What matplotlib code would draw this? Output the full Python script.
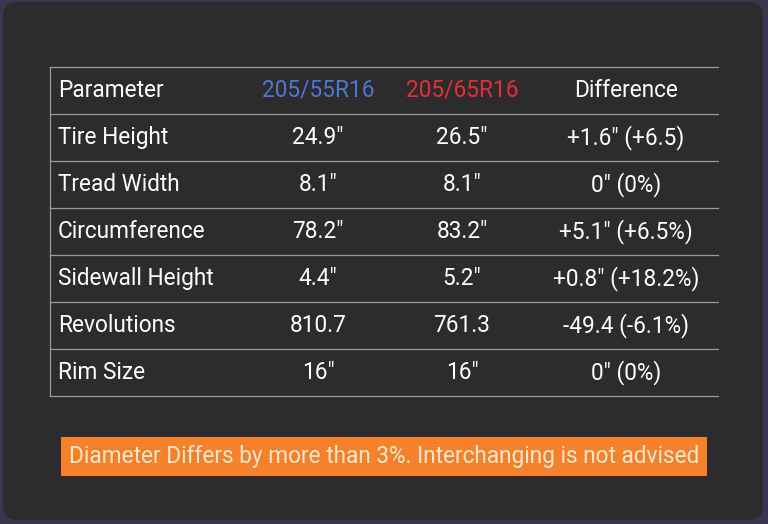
import matplotlib.pyplot as plt
from matplotlib.patches import FancyBboxPatch, Rectangle

params = ["Tire Height", "Tread Width", "Circumference", "Sidewall Height", "Revolutions", "Rim Size"]
tire_a = ['24.9"', '8.1"', '78.2"', '4.4"', '810.7', '16"']
tire_b = ['26.5"', '8.1"', '83.2"', '5.2"', '761.3', '16"']
diffs = ['+1.6" (+6.5)', '0" (0%)', '+5.1" (+6.5%)', '+0.8" (+18.2%)', '-49.4 (-6.1%)', '0" (0%)']
headers = ["Parameter", "205/55R16", "205/65R16", "Difference"]
header_colors = ["white", "#4a78d8", "#e0303a", "white"]
note = "Diameter Differs by more than 3%. Interchanging is not advised"

W, H = 768, 524
fig = plt.figure(figsize=(W / 100, H / 100), dpi=100)
fig.patch.set_facecolor("#3b3650")
ax = fig.add_axes([0, 0, 1, 1])
ax.set_xlim(0, W)
ax.set_ylim(H, 0)
ax.axis("off")

ax.add_patch(FancyBboxPatch((3, 2), W - 8, H - 6, boxstyle="round,pad=0,rounding_size=14",
                            facecolor="#2d2b2b", edgecolor="none"))

font = "Roboto"
fs = 16.3
rows = [headers] + [list(r) for r in zip(params, tire_a, tire_b, diffs)]
y_lines = [67 + 47 * i for i in range(len(rows) + 1)]
line_c = "#9a9a9a"
for y in y_lines:
    ax.plot([50, 718], [y, y], color=line_c, lw=0.9)
ax.plot([50, 50], [y_lines[0], y_lines[-1]], color=line_c, lw=0.9)

col_x = [58, 318, 462, 626]
for i, row in enumerate(rows):
    yc = (y_lines[i] + y_lines[i + 1]) / 2
    for j, txt in enumerate(row):
        color = header_colors[j] if i == 0 else "white"
        ax.text(col_x[j], yc, txt, color=color, fontsize=fs, family=font,
                ha="left" if j == 0 else "center", va="center")

ax.add_patch(Rectangle((61, 437), 646, 39, facecolor="#f5822a", edgecolor="none"))
ax.text(384, 456, note, color="#fde6cc", fontsize=fs, family=font, ha="center", va="center")

fig.savefig("out.png", dpi=100, facecolor=fig.get_facecolor())
